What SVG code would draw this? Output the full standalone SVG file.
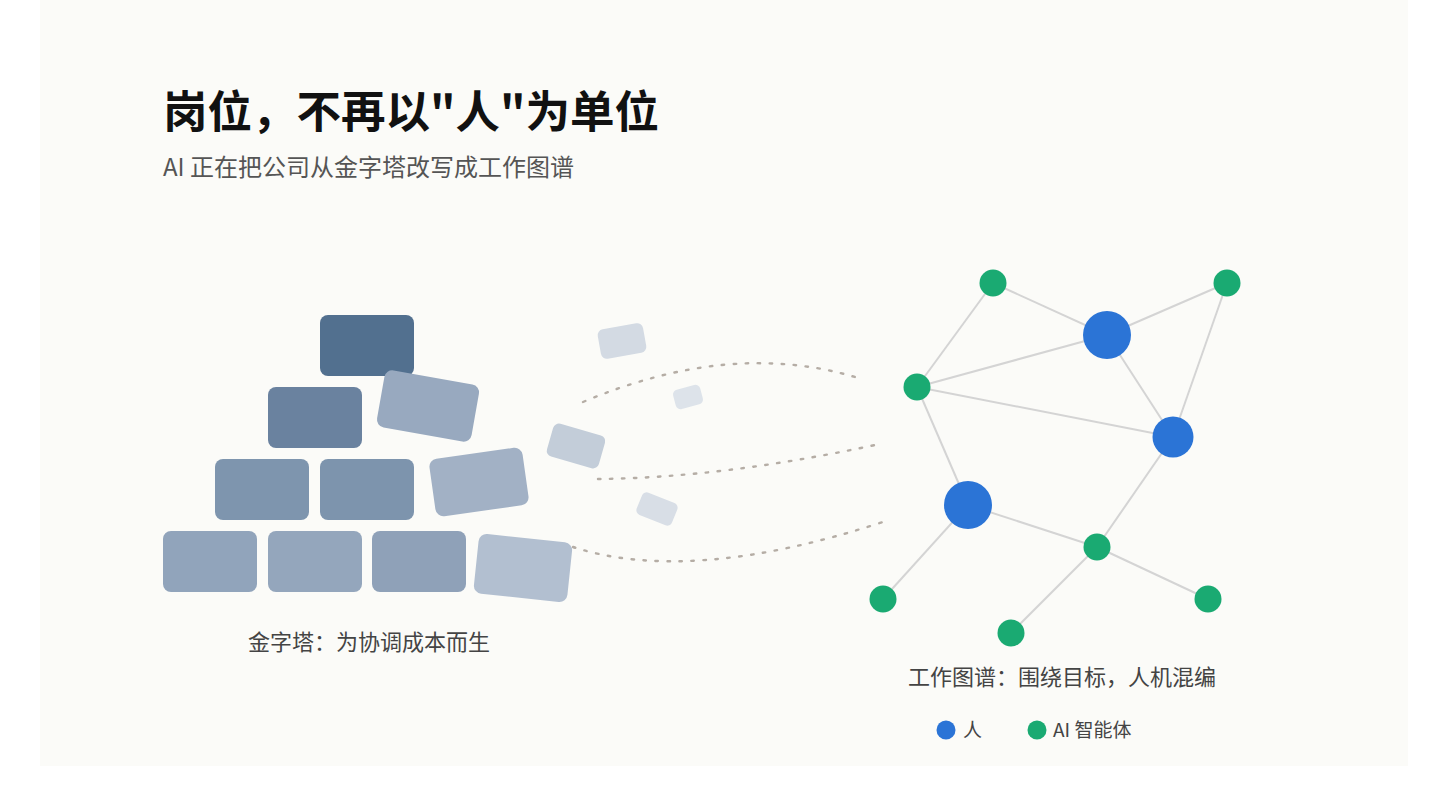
<svg xmlns="http://www.w3.org/2000/svg" width="1440" height="810" viewBox="0 0 1440 810">
<style>
.t{font-family:"Noto Sans CJK SC","Noto Sans",sans-serif}
.title{font-size:44.5px;font-weight:700;fill:#111}
.sub{font-size:24px;fill:#555}
.lbl{font-size:22px;fill:#444}
.leg{font-size:19px;fill:#444}
.edge{stroke:#d4d4d4;stroke-width:2;fill:none}
.dot{stroke:#b5ada5;stroke-width:2.4;fill:none;stroke-dasharray:2.5 9.5;stroke-linecap:round}
.ai{fill:#1aaa72}
.hu{fill:#2b74d6}
</style>
<rect x="0" y="0" width="1440" height="810" fill="#ffffff"/>
<rect x="40" y="0" width="1368" height="766" fill="#fbfbf8"/>
<g id="title"><text class="t title" x="163" y="128">岗位，不再以"人"为单位</text></g>
<g id="subtitle"><text class="t sub" x="163" y="176">AI 正在把公司从金字塔改写成工作图谱</text></g>
<g id="pyramid">
<rect x="320" y="315" width="94" height="61" rx="8" fill="#52708f"/>
<rect x="268" y="387" width="94" height="61" rx="8" fill="#6a829f"/>
<rect x="215" y="459" width="94" height="61" rx="8" fill="#7e95ae"/>
<rect x="320" y="459" width="94" height="61" rx="8" fill="#7d94ad"/>
<rect x="163" y="531" width="94" height="61" rx="8" fill="#91a4bb"/>
<rect x="268" y="531" width="94" height="61" rx="8" fill="#94a6bc"/>
<rect x="372" y="531" width="94" height="61" rx="8" fill="#8fa1b8"/>
</g>
<g id="falling-blocks">
<rect x="-48" y="-29" width="96" height="58" rx="8" fill="#98a9bf" transform="translate(428,406) rotate(10)"/>
<rect x="-47" y="-29" width="94" height="58" rx="8" fill="#a2b1c5" transform="translate(479,482) rotate(-8)"/>
<rect x="-47" y="-30" width="94" height="60" rx="8" fill="#b2bfd0" transform="translate(523,568) rotate(6)"/>
<rect x="-23" y="-15" width="46" height="30" rx="6" fill="#d3dae3" transform="translate(622,341) rotate(-10)"/>
<rect x="-14" y="-10" width="28" height="20" rx="5" fill="#dde3ea" transform="translate(688,397) rotate(-15)"/>
<rect x="-27" y="-17" width="54" height="34" rx="6" fill="#c3cdd9" transform="translate(576,446) rotate(16)"/>
<rect x="-19" y="-12" width="38" height="24" rx="5" fill="#d8dee6" transform="translate(657,509) rotate(22)"/>
</g>
<g id="connectors">
<path class="dot" d="M583,402 Q730,340 855,377"/>
<path class="dot" d="M598,479 Q720,478 875,445"/>
<path class="dot" d="M573,547 Q690,585 883,522"/>
<line class="edge" x1="993" y1="283" x2="917" y2="387"/>
<line class="edge" x1="993" y1="283" x2="1107" y2="335"/>
<line class="edge" x1="1107" y1="335" x2="1227" y2="283"/>
<line class="edge" x1="1227" y1="283" x2="1173" y2="437"/>
<line class="edge" x1="917" y1="387" x2="1107" y2="335"/>
<line class="edge" x1="917" y1="387" x2="1173" y2="437"/>
<line class="edge" x1="1107" y1="335" x2="1173" y2="437"/>
<line class="edge" x1="917" y1="387" x2="968" y2="505"/>
<line class="edge" x1="968" y1="505" x2="1097" y2="547"/>
<line class="edge" x1="1173" y1="437" x2="1097" y2="547"/>
<line class="edge" x1="968" y1="505" x2="883" y2="599"/>
<line class="edge" x1="1097" y1="547" x2="1011" y2="633"/>
<line class="edge" x1="1097" y1="547" x2="1208" y2="599"/>
</g>
<g id="n-g1"><circle class="ai" cx="993" cy="283" r="13.5"/></g>
<g id="n-g2"><circle class="ai" cx="1227" cy="283" r="13.5"/></g>
<g id="n-g3"><circle class="ai" cx="917" cy="387" r="13.5"/></g>
<g id="n-g4"><circle class="ai" cx="1097" cy="547" r="13.5"/></g>
<g id="n-g5"><circle class="ai" cx="883" cy="599" r="13.5"/></g>
<g id="n-g6"><circle class="ai" cx="1011" cy="633" r="13.5"/></g>
<g id="n-g7"><circle class="ai" cx="1208" cy="599" r="13.5"/></g>
<g id="n-b1"><circle class="hu" cx="1107" cy="335" r="24"/></g>
<g id="n-b2"><circle class="hu" cx="1173" cy="437" r="20.5"/></g>
<g id="n-b3"><circle class="hu" cx="968" cy="505" r="24"/></g>
<g id="label-pyramid"><text class="t lbl" x="369" y="650" text-anchor="middle">金字塔：为协调成本而生</text></g>
<g id="label-graph"><text class="t lbl" x="1062" y="685" text-anchor="middle">工作图谱：围绕目标，人机混编</text></g>
<g id="legend">
<circle class="hu" cx="946" cy="730" r="9.5"/>
<text class="t leg" x="963" y="737">人</text>
<circle class="ai" cx="1037" cy="730" r="9.5"/>
<text class="t leg" x="1053" y="737">AI 智能体</text>
</g>
</svg>
